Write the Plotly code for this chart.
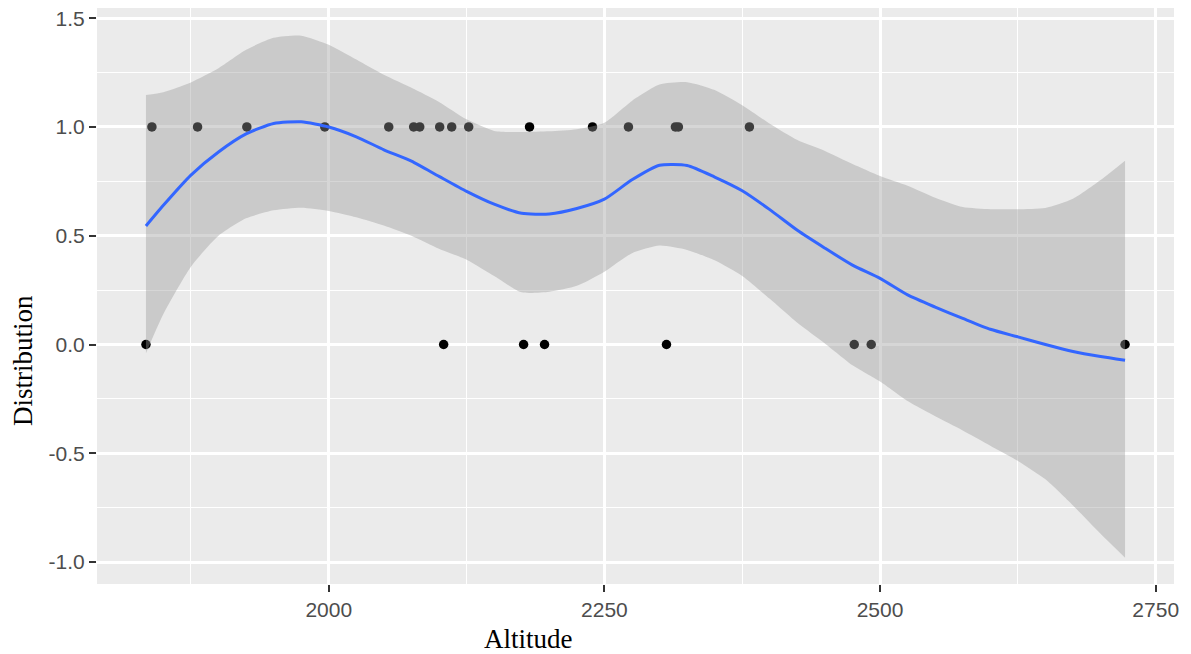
import plotly.graph_objects as go

# Observed points
altitude = [1834.2, 1839.6, 1881.0, 1925.7, 1996.4, 2054.4, 2077.0, 2082.5, 2100.6,
            2104.2, 2111.5, 2126.9, 2176.7, 2182.1, 2195.7, 2239.2, 2271.8, 2306.3,
            2314.4, 2317.1, 2381.5, 2476.6, 2492.0, 2722.2]
distribution = [0, 1, 1, 1, 1, 1, 1, 1, 1,
                0, 1, 1, 0, 1, 0, 1, 1, 0,
                1, 1, 1, 0, 0, 0]

# Loess smooth
smooth_x = [1834.2, 1850, 1875, 1900, 1925, 1950, 1975, 2000, 2025, 2050, 2075, 2100,
            2125, 2150, 2175, 2200, 2225, 2250, 2275, 2300, 2325, 2350, 2375, 2400,
            2425, 2450, 2475, 2500, 2525, 2550, 2575, 2600, 2625, 2650, 2675, 2700, 2722.2]
smooth_fit = [0.545, 0.64, 0.779, 0.885, 0.968, 1.016, 1.024, 1.000, 0.955, 0.895, 0.843, 0.773,
              0.704, 0.645, 0.603, 0.600, 0.625, 0.668, 0.757, 0.824, 0.823, 0.770, 0.707, 0.62,
              0.525, 0.443, 0.365, 0.304, 0.228, 0.172, 0.12, 0.070, 0.035, 0.000, -0.032, -0.055, -0.072]
smooth_upper = [1.147, 1.160, 1.205, 1.27, 1.355, 1.41, 1.42, 1.378, 1.31, 1.24, 1.18, 1.115,
                1.035, 0.982, 0.977, 0.98, 0.99, 1.02, 1.12, 1.195, 1.206, 1.17, 1.10, 1.015,
                0.94, 0.89, 0.83, 0.775, 0.73, 0.675, 0.632, 0.622, 0.622, 0.628, 0.67, 0.756, 0.845]
smooth_lower = [-0.04, 0.14, 0.358, 0.50, 0.58, 0.617, 0.629, 0.614, 0.585, 0.547, 0.50, 0.44,
                0.39, 0.315, 0.24, 0.243, 0.27, 0.335, 0.42, 0.455, 0.435, 0.387, 0.315, 0.21,
                0.10, 0.005, -0.095, -0.17, -0.26, -0.33, -0.395, -0.465, -0.535, -0.62, -0.74, -0.87, -0.98]

x_ticks = [2000, 2250, 2500, 2750]
y_ticks = [-1.0, -0.5, 0.0, 0.5, 1.0, 1.5]
y_tick_text = ["-1.0", "-0.5", "0.0", "0.5", "1.0", "1.5"]

fig = go.Figure()
fig.add_trace(go.Scatter(x=altitude, y=distribution, mode="markers",
                         marker=dict(color="black", size=9.5), showlegend=False,
                         hoverinfo="skip"))
fig.add_trace(go.Scatter(x=smooth_x, y=smooth_lower, mode="lines",
                         line=dict(width=0, shape="spline", smoothing=0.6), showlegend=False,
                         hoverinfo="skip"))
fig.add_trace(go.Scatter(x=smooth_x, y=smooth_upper, mode="lines", fill="tonexty",
                         fillcolor="rgba(153,153,153,0.4)",
                         line=dict(width=0, shape="spline", smoothing=0.6), showlegend=False,
                         hoverinfo="skip"))
fig.add_trace(go.Scatter(x=smooth_x, y=smooth_fit, mode="lines",
                         line=dict(color="#3366FF", width=3, shape="spline", smoothing=0.6),
                         showlegend=False))

tickfont = dict(family="Liberation Sans, Arial", size=21, color="#4D4D4D")
W, H = 1191, 654
l, r, t, b = 97, 17, 8, 70
pw, ph = W - l - r, H - t - b


def px_to_paper(px, py):
    return (px - l) / pw, (H - b - py) / ph


ax, ay = px_to_paper(528, 639)
dx, dy = px_to_paper(23, 361)
title_font = dict(family="Liberation Serif, Times New Roman", size=27, color="black")

fig.update_layout(
    width=W, height=H,
    margin=dict(l=l, r=r, t=t, b=b),
    paper_bgcolor="white", plot_bgcolor="#EBEBEB",
    xaxis=dict(range=[1789.8, 2766.6], tickmode="array", tickvals=x_ticks,
               ticks="outside", ticklen=7, tickwidth=2, tickcolor="#333333",
               tickfont=tickfont, showgrid=True, gridcolor="white", gridwidth=2.5,
               zeroline=False, showline=False,
               minor=dict(dtick=125, tick0=1750, showgrid=True, gridcolor="white",
                          gridwidth=1.2, ticks="")),
    yaxis=dict(range=[-1.101, 1.547], tickmode="array", tickvals=y_ticks,
               ticktext=y_tick_text,
               ticks="outside", ticklen=7, tickwidth=2, tickcolor="#333333",
               tickfont=tickfont, showgrid=True, gridcolor="white", gridwidth=2.5,
               zeroline=False, showline=False,
               minor=dict(dtick=0.25, tick0=0, showgrid=True, gridcolor="white",
                          gridwidth=1.2, ticks="")),
    annotations=[
        dict(text="Altitude", x=ax, y=ay, xref="paper", yref="paper",
             xanchor="center", yanchor="middle", showarrow=False, font=title_font),
        dict(text="Distribution", x=dx, y=dy, xref="paper", yref="paper", textangle=-90,
             xanchor="center", yanchor="middle", showarrow=False, font=title_font),
    ],
)
fig.write_html("out.html")
